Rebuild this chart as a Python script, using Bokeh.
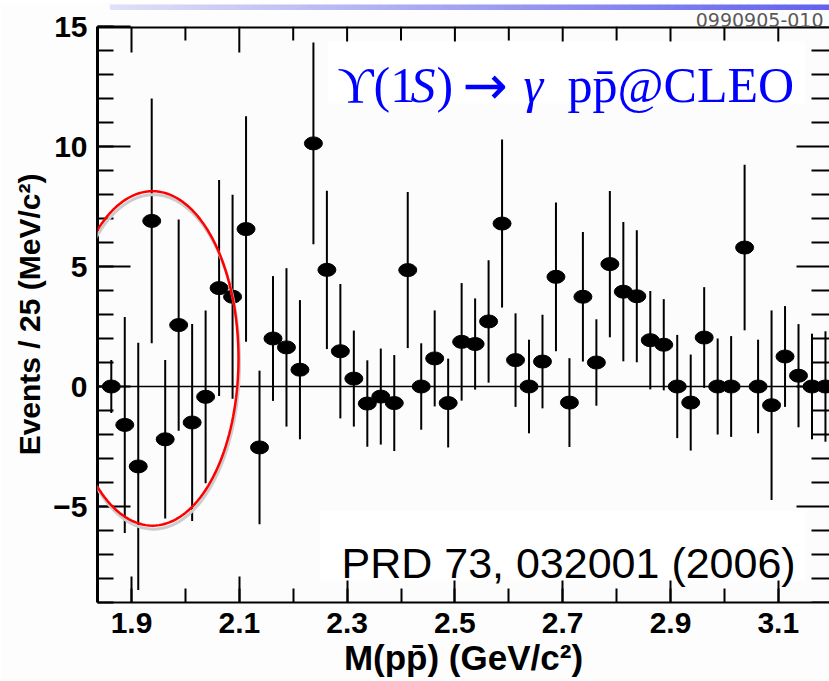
import math
from bokeh.plotting import figure
from bokeh.models import (Range1d, FixedTicker, Span, BoxAnnotation, PolyAnnotation,
                          Label, ColumnDataSource)
from bokeh.layouts import column
from bokeh.embed import file_html
from bokeh.resources import INLINE

# ---------------- data ----------------
mass = [1.8625, 1.8875, 1.9125, 1.9375, 1.9625, 1.9875, 2.0125, 2.0375, 2.0625, 2.0875,
        2.1125, 2.1375, 2.1625, 2.1875, 2.2125, 2.2375, 2.2625, 2.2875, 2.3125, 2.3375,
        2.3625, 2.3875, 2.4125, 2.4375, 2.4625, 2.4875, 2.5125, 2.5375, 2.5625, 2.5875,
        2.6125, 2.6375, 2.6625, 2.6875, 2.7125, 2.7375, 2.7625, 2.7875, 2.8125, 2.8375,
        2.8625, 2.8875, 2.9125, 2.9375, 2.9625, 2.9875, 3.0125, 3.0375, 3.0625, 3.0875,
        3.1125, 3.1375, 3.1625, 3.1875]
events = [0, -1.6, -3.33, 6.9, -2.2, 2.56, -1.5, -0.43, 4.1, 3.74,
          6.56, -2.54, 2.0, 1.63, 0.7, 10.13, 4.86, 1.47, 0.33, -0.71,
          -0.42, -0.69, 4.85, 0, 1.17, -0.69, 1.86, 1.77, 2.71, 6.79,
          1.1, 0, 1.04, 4.57, -0.67, 3.74, 1.0, 5.1, 3.95, 3.76,
          1.93, 1.74, 0, -0.67, 2.04, 0, 0, 5.79, 0, -0.78,
          1.25, 0.45, 0, 0]
errors = [1.1, 4.5, 5.15, 5.1, 3.3, 4.4, 4.1, 3.6, 4.5, 4.25,
          4.7, 3.2, 2.6, 3.3, 2.9, 4.2, 3.3, 2.8, 2.0, 1.8,
          2.0, 2.0, 3.25, 1.8, 2.0, 1.85, 2.45, 1.9, 2.55, 3.5,
          1.95, 1.95, 1.95, 3.1, 1.85, 2.7, 1.8, 3.05, 2.9, 2.75,
          2.05, 1.9, 2.15, 2.0, 2.1, 2.0, 2.1, 3.45, 1.95, 3.95,
          2.1, 2.15, 2.2, 2.3]
x_ticks = [1.9, 2.1, 2.3, 2.5, 2.7, 2.9, 3.1]
x_minor = [1.9, 2.0, 2.1, 2.2, 2.3, 2.4, 2.5, 2.6, 2.7, 2.8, 2.9, 3.0, 3.1]
y_ticks = [-5, 0, 5, 10, 15]
y_minor = [-9, -8, -7, -6, -5, -4, -3, -2, -1, 0, 1, 2, 3, 4, 5, 6, 7, 8, 9, 10,
           11, 12, 13, 14, 15]
x_title = "M(pp\u0304) (GeV/c\u00b2)"
y_title = "Events / 25 (MeV/c\u00b2)"
ref_text = "PRD 73, 032001 (2006)"
stamp_text = "0990905-010"

# ---------------- geometry ----------------
X0, X1 = 1.8369, 3.195
Y0, Y1 = -9, 15
FL, FR, FT, FB = 97, 829, 25, 602   # frame in page pixels
STRIP = 10                          # height of the gradient strip figure
DX = (X1 - X0) / (FR - FL)          # data per pixel
DY = (Y1 - Y0) / (FB - FT)


def cx(px):
    return X0 + (px - FL) * DX


def cy(py):
    return Y1 - (py - FT) * DY


SANS = "'Liberation Sans', Arial, sans-serif"
SERIF = "'Liberation Serif', 'Times New Roman', serif"

# ---------------- top strip: gradient bar ----------------
g = figure(width=829, height=STRIP, x_range=Range1d(0, 829), y_range=Range1d(0, STRIP),
           output_backend="svg", toolbar_location=None, min_border=0,
           outline_line_color=None, background_fill_color="#fdfdfd",
           border_fill_color="#fdfdfd")
g.axis.visible = False
g.grid.visible = False
n = 80
lefts, rights, cols = [], [], []
for i in range(n):
    t = i / (n - 1)
    lefts.append(14 + (829 - 14) * i / n)
    rights.append(14 + (829 - 14) * (i + 1) / n + 0.5)
    r = int(224 - (224 - 98) * t)
    b = int(247 - (247 - 238) * t)
    cols.append("#%02x%02x%02x" % (r, r, b))
g.quad(left=lefts, right=rights, top=8, bottom=2, color=cols, line_color=None)

# ---------------- main figure ----------------
p = figure(width=829, height=681 - STRIP, x_range=Range1d(X0, X1), y_range=Range1d(Y0, Y1),
           output_backend="svg", toolbar_location=None,
           min_border_left=FL, min_border_right=0, min_border_top=FT - STRIP,
           min_border_bottom=681 - FB,
           background_fill_color="#fcfcfc", border_fill_color="#fdfdfd",
           outline_line_color=None, title=stamp_text, title_location="above",
           x_axis_label=x_title, y_axis_label=y_title)
p.grid.visible = False
p.title.align = "right"
p.title.text_font = "'DejaVu Sans', sans-serif"
p.title.text_font_size = "19px"
p.title.text_line_height = 0.7
p.title.text_font_style = "normal"
p.title.text_color = "#5a5a5a"
p.title.standoff = 0
p.title.offset = 6

xa = p.xaxis[0]
xa.ticker = FixedTicker(ticks=x_ticks, minor_ticks=x_minor)
ya = p.yaxis[0]
ya.ticker = FixedTicker(ticks=y_ticks, minor_ticks=y_minor)
ya.major_label_overrides = {-5: "\u22125"}

for ax, mj, mn in ((xa, 26, 14), (ya, 33, 16)):
    ax.major_tick_in = mj
    ax.major_tick_out = 0
    ax.minor_tick_in = mn
    ax.minor_tick_out = 0
    ax.major_tick_line_width = 2
    ax.minor_tick_line_width = 2
    ax.major_tick_line_color = "black"
    ax.minor_tick_line_color = "black"
    ax.axis_line_color = "black"
    ax.major_label_text_font = SANS
    ax.major_label_text_font_size = "30px"
    ax.major_label_text_font_style = "bold"
    ax.major_label_text_color = "black"
    ax.axis_label_text_font = SANS
    ax.axis_label_text_font_style = "bold"
    ax.axis_label_text_color = "black"
xa.axis_label_text_font_size = "35px"
ya.axis_label_text_font_size = "30px"
xa.axis_line_width = 2
ya.axis_line_width = 3
xa.major_label_standoff = 10
xa.axis_label_standoff = 2
ya.major_label_standoff = 10
ya.axis_label_standoff = 4

# top frame edge with ticks, right-edge ticks (derived from the tick lists)
p.segment(x0=[X0], y0=[Y1], x1=[X1], y1=[Y1], line_color="black", line_width=4)
top_len = [26 if any(abs(t - m) < 1e-6 for m in x_ticks) else 14 for t in x_minor]
p.segment(x0=x_minor, y0=[Y1] * len(x_minor), x1=x_minor,
          y1=[Y1 - L * DY for L in top_len], line_color="black", line_width=2)
right_len = [33 if v in y_ticks else 18 for v in y_minor]
p.segment(x0=[X1] * len(y_minor), y0=y_minor, x1=[X1 - L * DX for L in right_len],
          y1=y_minor, line_color="black", line_width=2)

p.add_layout(Span(location=0, dimension="width", line_color="black", line_width=1.5))

src = ColumnDataSource(dict(
    x=mass, y=events,
    lo=[v - e for v, e in zip(events, errors)],
    hi=[v + e for v, e in zip(events, errors)]))
p.segment(x0="x", y0="lo", x1="x", y1="hi", source=src, line_color="black", line_width=2)
p.ellipse(x="x", y="y", width=18, height=13, width_units="screen", height_units="screen",
          source=src, fill_color="black", line_color="black")


# red ellipse highlighting the low-mass region (with soft shadow), as annotation
def ellipse_outline(pcx, pcy, a, b, k=160):
    xs, ys = [], []
    for i in range(k):
        th = 2 * math.pi * i / k
        xs.append(cx(pcx + a * math.cos(th)))
        ys.append(cy(pcy + b * math.sin(th)))
    return xs, ys


sx, sy = ellipse_outline(153, 361, 86, 167.5)
p.add_layout(PolyAnnotation(xs=sx, ys=sy, fill_alpha=0, line_color="#cccccc",
                            line_alpha=1, line_width=3))
ex, ey = ellipse_outline(152, 357.5, 86, 167.5)
p.add_layout(PolyAnnotation(xs=ex, ys=ey, fill_alpha=0, line_color="#ff0000",
                            line_alpha=1, line_width=2.5))

# white boxes
p.add_layout(BoxAnnotation(left=cx(328), right=cx(804), top=cy(40), bottom=cy(102),
                           fill_color="white", fill_alpha=1, line_color=None))
p.add_layout(BoxAnnotation(left=cx(320), right=cx(805), top=cy(510), bottom=cy(580),
                           fill_color="white", fill_alpha=1, line_color=None))

# title pieces
pieces = [("\u03d2(1", 337, "normal", SERIF, "50px"),
          ("S", 410, "italic", SERIF, "50px"),
          (")", 436, "normal", SERIF, "50px"),
          ("\u2192", 462, "normal", "'DejaVu Sans', sans-serif", "54px"),
          ("\u03b3", 523, "italic", SERIF, "50px"),
          ("pp\u0304@CLEO", 567, "normal", SERIF, "50px")]
for txt, px, style, font, size in pieces:
    p.add_layout(Label(x=cx(px), y=cy(84), text=txt, text_font=font,
                       text_font_size=size, text_font_style=style,
                       text_color="#0000ff", text_align="left",
                       text_baseline="alphabetic"))

p.add_layout(Label(x=cx(341), y=cy(562), text=ref_text, text_font=SANS,
                   text_font_size="43px", text_color="black", text_align="left",
                   text_baseline="alphabetic"))

layout = column(g, p, spacing=0)
open("out.html", "w").write(file_html(layout, INLINE))
